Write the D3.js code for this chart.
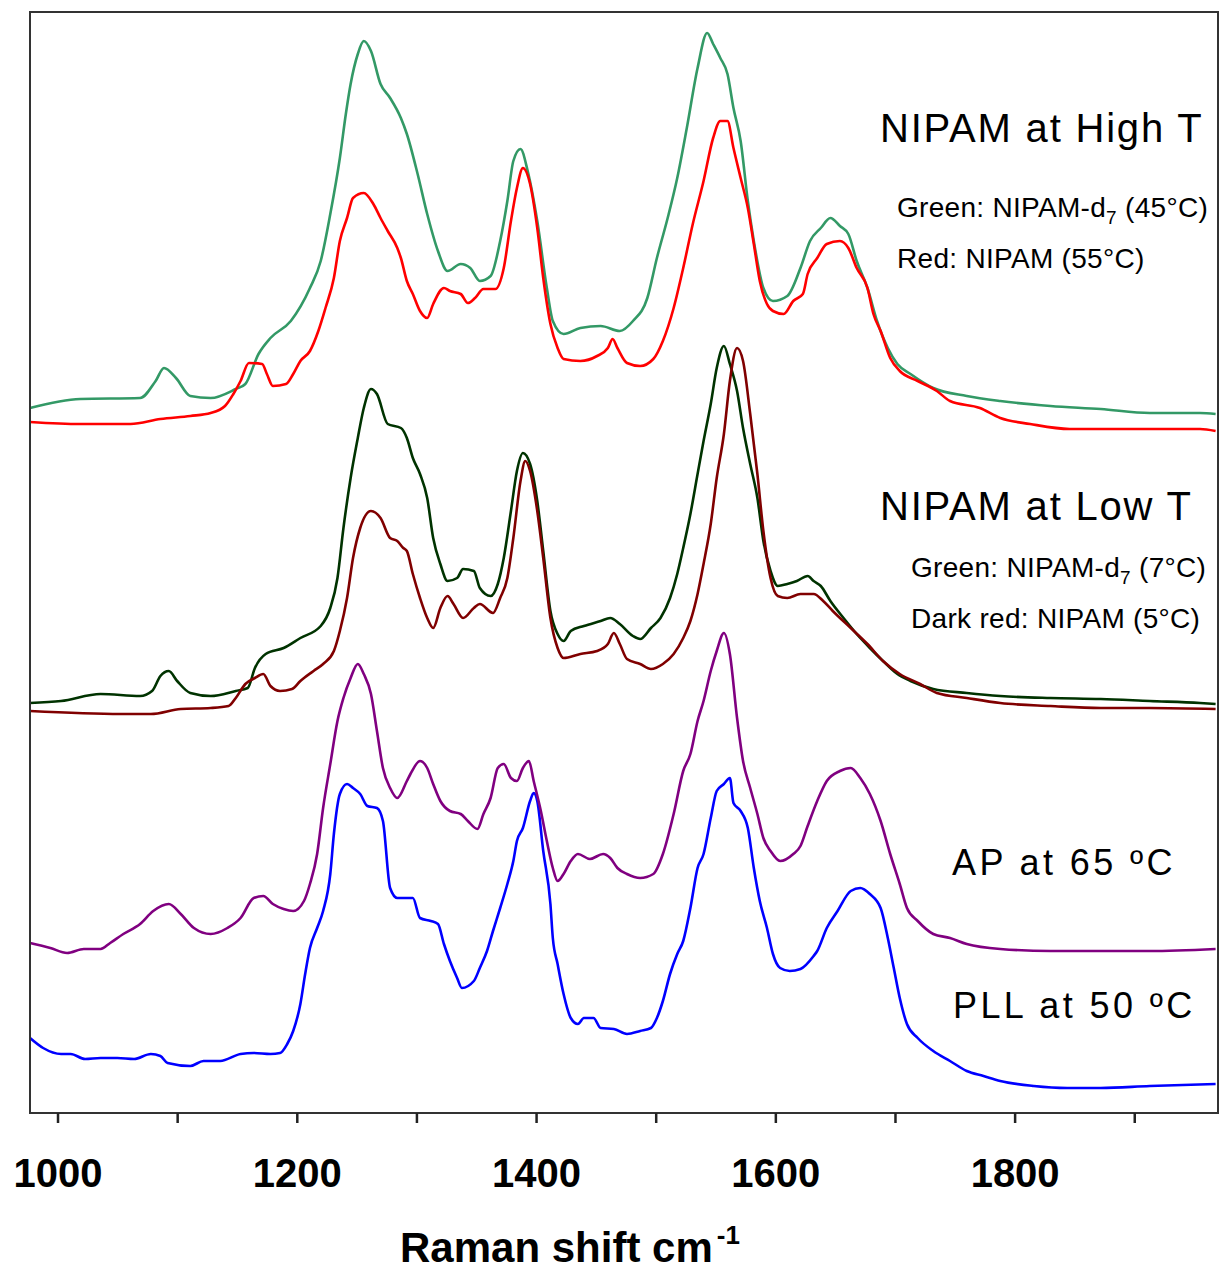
<!DOCTYPE html>
<html>
<head>
<meta charset="utf-8">
<script src="https://cdn.jsdelivr.net/npm/d3@7"></script>
<style>
  body { margin: 0; background: #fff; }
  svg { display: block; font-family: "Liberation Sans", Arial, sans-serif; }
  .frame { fill: none; stroke: #333; stroke-width: 2; }
  .spectrum { fill: none; stroke-width: 2.6; stroke-linejoin: round; }
  .tick-label { font-weight: bold; font-size: 40px; }
  .axis-title { font-weight: bold; font-size: 42px; }
  .note-big { font-size: 40px; letter-spacing: 1.8px; }
  .note-small { font-size: 28px; letter-spacing: 0.3px; }
  .note-sample { font-size: 36px; letter-spacing: 3.4px; }
</style>
</head>
<body>
<svg id="chart" width="1220" height="1272"></svg>
<script>
// Raman shift (cm-1), intensity (a.u., stacked offsets as in the figure)
const nipamD7High = [
  [977, 705], [1019, 714], [1069, 715], [1082, 732], [1089, 745], [1099, 735], [1111, 717],
  [1128, 715], [1149, 724], [1157, 729], [1168, 759], [1178, 775], [1195, 792], [1211, 825],
  [1220, 852], [1228, 899], [1236, 955], [1241, 999], [1245, 1029], [1251, 1059], [1256, 1072],
  [1262, 1062], [1270, 1029], [1278, 1015], [1287, 995], [1292, 979], [1301, 939], [1309, 899],
  [1318, 862], [1326, 842], [1337, 849], [1345, 845], [1353, 832], [1362, 837], [1370, 872],
  [1376, 912], [1381, 952], [1387, 964], [1393, 942], [1401, 892], [1409, 825], [1414, 792],
  [1423, 779], [1437, 785], [1454, 787], [1470, 782], [1481, 792], [1493, 815], [1501, 855],
  [1510, 895], [1518, 935], [1526, 985], [1535, 1045], [1543, 1080], [1548, 1069], [1554, 1055],
  [1560, 1039], [1565, 1005], [1571, 972], [1577, 912], [1582, 872], [1590, 825], [1598, 812],
  [1610, 817], [1621, 845], [1629, 872], [1638, 885], [1646, 895], [1654, 887], [1661, 879],
  [1668, 852], [1677, 825], [1685, 792], [1694, 765], [1702, 749], [1713, 739], [1732, 725],
  [1760, 717], [1788, 712], [1830, 707], [1872, 704], [1913, 700], [1955, 700], [1968, 699],
];

const nipamHigh = [
  [977, 691], [1019, 689], [1061, 689], [1086, 694], [1111, 697], [1128, 700], [1140, 707],
  [1147, 719], [1153, 732], [1160, 750], [1171, 749], [1175, 739], [1180, 727], [1191, 729],
  [1197, 739], [1203, 752], [1211, 762], [1218, 782], [1224, 805], [1231, 835], [1236, 872],
  [1242, 895], [1247, 915], [1256, 920], [1264, 909], [1270, 895], [1276, 882], [1284, 865],
  [1287, 855], [1292, 832], [1297, 819], [1303, 802], [1309, 795], [1314, 809], [1323, 825],
  [1328, 822], [1337, 819], [1343, 810], [1349, 815], [1356, 824], [1366, 824], [1373, 845],
  [1379, 892], [1384, 925], [1389, 945], [1395, 929], [1401, 885], [1406, 835], [1412, 789],
  [1418, 765], [1423, 754], [1437, 752], [1451, 757], [1460, 765], [1464, 774], [1468, 765],
  [1476, 750], [1487, 747], [1498, 754], [1506, 772], [1515, 805], [1523, 845], [1531, 889],
  [1540, 932], [1548, 975], [1554, 992], [1560, 992], [1565, 965], [1571, 935], [1577, 905],
  [1582, 869], [1587, 832], [1593, 809], [1598, 802], [1607, 799], [1615, 812], [1623, 819],
  [1627, 839], [1635, 855], [1643, 869], [1654, 872], [1661, 865], [1668, 845], [1677, 825],
  [1682, 799], [1688, 782], [1696, 755], [1704, 742], [1719, 732], [1735, 722], [1746, 712],
  [1771, 705], [1788, 695], [1813, 689], [1846, 684], [1897, 684], [1955, 684], [1968, 682],
];

const nipamD7Low = [
  [977, 410], [1003, 412], [1036, 419], [1069, 417], [1079, 422], [1086, 437], [1093, 442],
  [1100, 432], [1111, 420], [1128, 417], [1149, 422], [1159, 425], [1165, 445], [1174, 459],
  [1189, 465], [1203, 475], [1220, 487], [1228, 505], [1234, 535], [1239, 585], [1245, 635],
  [1251, 675], [1256, 705], [1262, 724], [1267, 719], [1276, 689], [1287, 685], [1292, 675],
  [1297, 655], [1303, 639], [1309, 615], [1314, 575], [1320, 549], [1326, 532], [1334, 535],
  [1339, 544], [1348, 542], [1353, 525], [1362, 517], [1368, 529], [1373, 555], [1379, 602],
  [1384, 642], [1389, 660], [1395, 649], [1401, 612], [1406, 562], [1412, 502], [1418, 479],
  [1423, 472], [1429, 482], [1440, 487], [1454, 492], [1462, 495], [1470, 489], [1481, 477],
  [1487, 474], [1496, 485], [1504, 495], [1512, 515], [1518, 539], [1523, 565], [1529, 599],
  [1535, 639], [1540, 672], [1546, 709], [1551, 745], [1557, 767], [1562, 749], [1568, 722],
  [1573, 685], [1579, 649], [1585, 615], [1590, 572], [1596, 542], [1602, 527], [1610, 529],
  [1618, 532], [1627, 537], [1632, 532], [1638, 527], [1646, 512], [1657, 495], [1668, 479],
  [1679, 465], [1690, 452], [1702, 439], [1713, 432], [1732, 424], [1760, 420], [1788, 417],
  [1830, 415], [1872, 414], [1913, 412], [1955, 410], [1968, 409],
];

const nipamLow = [
  [977, 402], [1053, 399], [1078, 399], [1103, 404], [1128, 405], [1143, 407], [1149, 415],
  [1157, 429], [1165, 435], [1172, 439], [1178, 427], [1186, 422], [1196, 424], [1203, 432],
  [1214, 442], [1222, 449], [1231, 462], [1236, 482], [1242, 515], [1247, 555], [1253, 585],
  [1262, 602], [1270, 595], [1278, 575], [1284, 572], [1289, 565], [1292, 562], [1297, 539],
  [1303, 515], [1309, 495], [1314, 485], [1320, 505], [1326, 517], [1331, 509], [1339, 495],
  [1348, 505], [1353, 509], [1364, 500], [1370, 515], [1376, 535], [1381, 575], [1387, 632],
  [1391, 652], [1395, 642], [1401, 602], [1406, 555], [1412, 495], [1418, 465], [1423, 455],
  [1437, 459], [1451, 462], [1460, 469], [1465, 480], [1470, 469], [1476, 454], [1487, 449],
  [1496, 444], [1506, 449], [1515, 459], [1523, 475], [1529, 492], [1535, 519], [1540, 549],
  [1546, 589], [1551, 635], [1557, 679], [1562, 732], [1568, 765], [1573, 752], [1579, 699],
  [1585, 639], [1590, 582], [1596, 535], [1602, 517], [1610, 515], [1621, 519], [1632, 519],
  [1640, 512], [1648, 502], [1663, 485], [1677, 469], [1690, 452], [1704, 439], [1721, 429],
  [1735, 420], [1760, 415], [1788, 410], [1830, 407], [1872, 405], [1913, 405], [1968, 404],
];

const apSpectrum = [
  [977, 170], [994, 165], [1008, 160], [1022, 164], [1036, 164], [1044, 170], [1055, 179],
  [1069, 189], [1080, 202], [1093, 209], [1103, 199], [1114, 185], [1128, 179], [1142, 185],
  [1153, 195], [1164, 215], [1172, 217], [1180, 209], [1189, 204], [1197, 202], [1206, 212],
  [1211, 229], [1217, 259], [1222, 305], [1228, 349], [1234, 392], [1239, 415], [1245, 435],
  [1251, 449], [1256, 439], [1262, 419], [1267, 382], [1272, 345], [1278, 325], [1284, 315],
  [1292, 332], [1295, 339], [1303, 352], [1309, 345], [1314, 329], [1320, 312], [1328, 302],
  [1337, 299], [1343, 292], [1351, 284], [1356, 299], [1362, 315], [1368, 345], [1373, 349],
  [1379, 335], [1384, 332], [1389, 345], [1394, 352], [1398, 332], [1404, 302], [1409, 272],
  [1414, 245], [1418, 232], [1423, 239], [1429, 252], [1435, 259], [1445, 254], [1456, 259],
  [1462, 255], [1468, 245], [1476, 239], [1487, 235], [1498, 239], [1506, 259], [1515, 299],
  [1523, 342], [1529, 359], [1535, 392], [1540, 412], [1546, 442], [1551, 462], [1557, 480],
  [1562, 459], [1568, 395], [1573, 352], [1579, 325], [1585, 299], [1590, 275], [1596, 262],
  [1604, 252], [1615, 259], [1621, 267], [1627, 287], [1635, 312], [1643, 332], [1654, 342],
  [1663, 345], [1671, 335], [1679, 319], [1688, 292], [1696, 259], [1704, 229], [1710, 205],
  [1719, 192], [1732, 179], [1746, 175], [1760, 169], [1788, 164], [1830, 162], [1872, 162],
  [1913, 162], [1968, 164],
];

const pllSpectrum = [
  [977, 75], [988, 65], [1003, 59], [1011, 59], [1023, 54], [1036, 55], [1050, 55], [1064, 54],
  [1078, 59], [1086, 57], [1092, 50], [1111, 47], [1122, 52], [1136, 52], [1153, 59], [1164, 60],
  [1178, 59], [1186, 60], [1192, 69], [1197, 82], [1203, 109], [1207, 139], [1211, 165],
  [1217, 185], [1222, 202], [1228, 239], [1231, 279], [1236, 319], [1242, 329], [1247, 325],
  [1253, 319], [1259, 307], [1267, 305], [1272, 292], [1278, 225], [1284, 215], [1292, 215],
  [1297, 215], [1303, 195], [1312, 192], [1318, 189], [1323, 169], [1328, 152], [1334, 135],
  [1338, 125], [1348, 132], [1353, 145], [1359, 162], [1364, 182], [1370, 205], [1376, 229],
  [1381, 252], [1384, 272], [1389, 285], [1395, 312], [1398, 320], [1401, 312], [1406, 262],
  [1412, 209], [1414, 175], [1418, 149], [1423, 119], [1429, 95], [1435, 89], [1440, 95],
  [1448, 95], [1454, 85], [1465, 84], [1476, 79], [1487, 82], [1496, 85], [1501, 95],
  [1506, 112], [1512, 139], [1518, 159], [1523, 172], [1529, 205], [1535, 245], [1540, 259],
  [1546, 295], [1551, 322], [1557, 329], [1562, 335], [1565, 310], [1571, 302], [1577, 285],
  [1582, 245], [1587, 212], [1593, 185], [1598, 159], [1604, 145], [1612, 142], [1621, 144],
  [1632, 157], [1635, 162], [1643, 185], [1652, 202], [1663, 222], [1671, 225], [1679, 219],
  [1688, 205], [1694, 175], [1699, 145], [1704, 115], [1710, 89], [1719, 75], [1732, 62],
  [1746, 52], [1760, 42], [1774, 37], [1788, 32], [1816, 27], [1844, 25], [1872, 25],
  [1913, 27], [1968, 29],
];

const seriesColors = ['#0000ff', '#800080', '#003300', '#800000', '#339966', '#ff0000'];
const xTicks = [1000, 1100, 1200, 1300, 1400, 1500, 1600, 1700, 1800, 1900];
const xTickLabels = [1000, 1200, 1400, 1600, 1800];

const svg = d3.select('#chart');

const plotLeft = 30;
const plotRight = 1218;
const plotTop = 12;
const plotBottom = 1113;

const x = d3.scaleLinear()
  .domain([977, 1970])
  .range([plotLeft, plotRight]);
const y = d3.scaleLinear()
  .domain([0, 1101])
  .range([plotBottom, plotTop]);

const line = d3.line()
  .x((d) => x(d[0]))
  .y((d) => y(d[1]))
  .curve(d3.curveMonotoneX);

const spectra = [pllSpectrum, apSpectrum, nipamD7Low, nipamLow, nipamD7High, nipamHigh];

svg.append('g')
  .attr('id', 'spectra')
  .selectAll('path')
  .data(spectra)
  .enter()
    .append('path')
    .classed('spectrum', true)
    .attr('stroke', (d, i) => seriesColors[i])
    .attr('d', line);

svg.append('rect')
  .classed('frame', true)
  .attr('x', plotLeft)
  .attr('y', plotTop)
  .attr('width', plotRight - plotLeft)
  .attr('height', plotBottom - plotTop);

// ticks hang below the frame, only every other one is labelled
const xAxis = d3.axisBottom(x)
  .tickValues(xTicks)
  .tickSizeInner(10)
  .tickSizeOuter(0)
  .tickFormat((d) => (xTickLabels.includes(d) ? d : ''));

const axisG = svg.append('g')
  .attr('transform', `translate(0,${plotBottom})`)
  .call(xAxis);
axisG.select('.domain').remove();
axisG.selectAll('.tick line')
  .attr('stroke', '#222')
  .attr('stroke-width', 2.5);
axisG.selectAll('.tick text')
  .classed('tick-label', true)
  .attr('fill', '#000')
  .attr('y', 74)
  .attr('dy', 0);
axisG.attr('font-family', null).attr('font-size', null);

const title = svg.append('text')
  .classed('axis-title', true)
  .attr('x', 400)
  .attr('y', 1262);
title.append('tspan').text('Raman shift cm');
title.append('tspan')
  .attr('font-size', 26)
  .attr('dx', 4)
  .attr('dy', -18)
  .text('-1');

// annotations on the right side
const bigNotes = [
  { text: 'NIPAM at High T', x: 880, y: 142 },
  { text: 'NIPAM at Low T', x: 880, y: 520 },
];
svg.selectAll('text.note-big')
  .data(bigNotes)
  .enter()
    .append('text')
    .classed('note-big', true)
    .attr('x', (d) => d.x)
    .attr('y', (d) => d.y)
    .text((d) => d.text);

const smallNotes = [
  { pre: 'Green: NIPAM-d', sub: '7', post: ' (45°C)', x: 897, y: 217 },
  { pre: 'Red: NIPAM (55°C)', sub: '', post: '', x: 897, y: 268 },
  { pre: 'Green: NIPAM-d', sub: '7', post: ' (7°C)', x: 911, y: 577 },
  { pre: 'Dark red: NIPAM (5°C)', sub: '', post: '', x: 911, y: 628 },
];
smallNotes.forEach((n) => {
  const t = svg.append('text')
    .classed('note-small', true)
    .attr('x', n.x)
    .attr('y', n.y);
  t.append('tspan').text(n.pre);
  if (n.sub) {
    t.append('tspan')
      .attr('font-size', 19)
      .attr('dy', 7)
      .text(n.sub);
    t.append('tspan')
      .attr('dy', -7)
      .text(n.post);
  }
});

const sampleNotes = [
  { text: 'AP at 65 ºC', x: 952, y: 875 },
  { text: 'PLL at 50 ºC', x: 953, y: 1018 },
];
svg.selectAll('text.note-sample')
  .data(sampleNotes)
  .enter()
    .append('text')
    .classed('note-sample', true)
    .attr('x', (d) => d.x)
    .attr('y', (d) => d.y)
    .text((d) => d.text);
</script>
</body>
</html>
